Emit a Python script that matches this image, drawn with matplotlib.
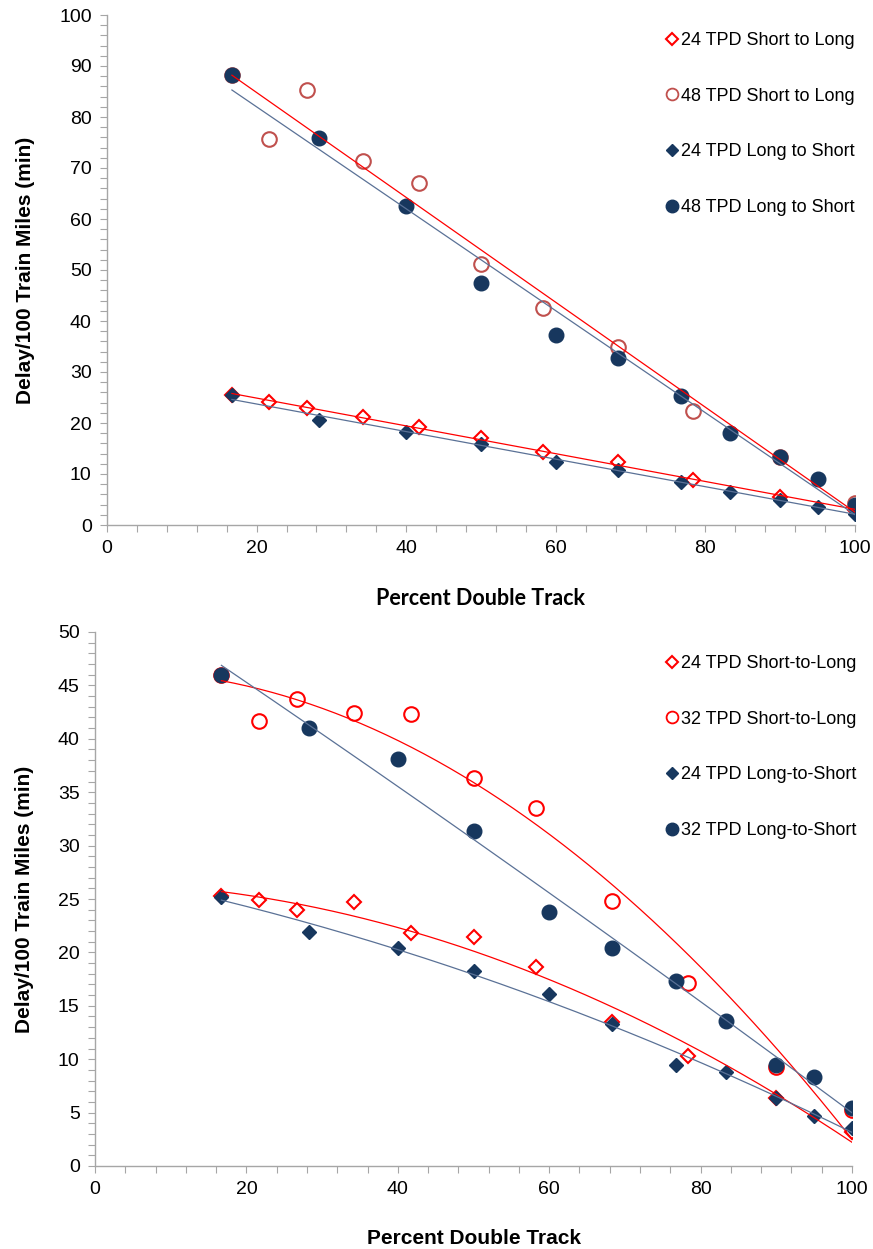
import numpy as np
import matplotlib
matplotlib.use("Agg")
import matplotlib.pyplot as plt
from matplotlib.ticker import MultipleLocator
from matplotlib.lines import Line2D

plt.rcParams['font.family'] = ['Liberation Sans', 'DejaVu Sans']

# percent double track for each scenario
pct_s2l = [16.7, 21.7, 26.7, 34.2, 41.7, 50, 58.3, 68.3, 78.3, 90, 100]
pct_l2s = [16.7, 28.3, 40, 50, 60, 68.3, 76.7, 83.3, 90, 95, 100]

# upper chart: 24 and 48 trains per day
top_s2l_24 = [25.5, 24.1, 23.0, 21.2, 19.3, 17.0, 14.3, 12.4, 8.8, 5.4, 3.0]
top_s2l_48 = [88.3, 75.7, 85.3, 71.3, 67.0, 51.2, 42.5, 35.0, 22.4, 13.4, 4.4]
top_l2s_24 = [25.5, 20.6, 18.2, 15.9, 12.4, 10.8, 8.4, 6.4, 5.0, 3.6, 2.2]
top_l2s_48 = [88.3, 75.9, 62.5, 47.4, 37.3, 32.8, 25.2, 18.0, 13.4, 9.0, 4.0]
top_labels = ["24 TPD Short to Long", "48 TPD Short to Long",
              "24 TPD Long to Short", "48 TPD Long to Short"]

# lower chart: 24 and 32 trains per day
bot_s2l_24 = [25.3, 24.9, 24.0, 24.7, 21.8, 21.4, 18.6, 13.5, 10.3, 6.4, 3.2]
bot_s2l_32 = [46.0, 41.7, 43.7, 42.4, 42.3, 36.3, 33.5, 24.8, 17.1, 9.3, 5.2]
bot_l2s_24 = [25.2, 21.9, 20.4, 18.3, 16.1, 13.3, 9.5, 8.8, 6.4, 4.7, 3.6]
bot_l2s_32 = [46.0, 41.0, 38.1, 31.4, 23.8, 20.4, 17.3, 13.6, 9.5, 8.3, 5.4]
bot_labels = ["24 TPD Short-to-Long", "32 TPD Short-to-Long",
              "24 TPD Long-to-Short", "32 TPD Long-to-Short"]

NAVY = "#17375E"
NAVY_LINE = "#5A7196"
RED = "#FF0000"
DARKRED = "#C0504D"
GRID = "#A6A6A6"


def trend(ax, x, y, deg, color):
    c = np.polyfit(x, y, deg)
    xs = np.linspace(min(x), max(x), 200)
    ax.plot(xs, np.polyval(c, xs), color=color, lw=0.9, zorder=5)


def style_axes(ax, ymax, ymajor, yminor, xfont, xsize):
    ax.set_xlim(0, 100)
    ax.set_ylim(0, ymax)
    ax.xaxis.set_major_locator(MultipleLocator(20))
    ax.xaxis.set_minor_locator(MultipleLocator(4))
    ax.yaxis.set_major_locator(MultipleLocator(ymajor))
    ax.yaxis.set_minor_locator(MultipleLocator(yminor))
    for s in ["top", "right"]:
        ax.spines[s].set_visible(False)
    for s in ["left", "bottom"]:
        ax.spines[s].set_color(GRID)
        ax.spines[s].set_linewidth(1.0)
    ax.tick_params(which="both", direction="out", length=5, width=0.8,
                   color=GRID, labelsize=14, pad=6)
    ax.set_xlabel("Percent Double Track", fontsize=xsize, fontweight="bold",
                  family=xfont, labelpad=22)
    ax.set_ylabel("Delay/100 Train Miles (min)", fontsize=15,
                  fontweight="bold", labelpad=17)


def draw(ax, s2l_lo, s2l_hi, l2s_lo, l2s_hi, hi_color, deg, labels, anchor):
    ms_c, ms_d = 10.5, 7.5
    ax.plot(pct_s2l, s2l_lo, ls="none", marker="D", ms=ms_d, mfc="white",
            mec=RED, mew=1.5, zorder=3)
    ax.plot(pct_s2l, s2l_hi, ls="none", marker="o", ms=ms_c, mfc="white",
            mec=hi_color, mew=1.5, zorder=3)
    ax.plot(pct_l2s, l2s_lo, ls="none", marker="D", ms=ms_d, color=NAVY,
            zorder=4)
    ax.plot(pct_l2s, l2s_hi, ls="none", marker="o", ms=ms_c, color=NAVY,
            zorder=4)
    trend(ax, pct_s2l, s2l_lo, deg, RED)
    trend(ax, pct_s2l, s2l_hi, deg, RED)
    trend(ax, pct_l2s, l2s_lo, deg, NAVY_LINE)
    trend(ax, pct_l2s, l2s_hi, deg, NAVY_LINE)

    handles = [
        Line2D([], [], ls="none", marker="D", ms=6, mfc="white", mec=RED, mew=1.5),
        Line2D([], [], ls="none", marker="o", ms=8.5, mfc="white", mec=hi_color, mew=1.3),
        Line2D([], [], ls="none", marker="D", ms=6, color=NAVY),
        Line2D([], [], ls="none", marker="o", ms=9, color=NAVY),
    ]
    ax.legend(handles, labels, loc="upper left", bbox_to_anchor=anchor,
              bbox_transform=ax.figure.transFigure, frameon=False,
              fontsize=13, handlelength=0.6, handletextpad=0.2,
              labelspacing=2.14, borderpad=0, borderaxespad=0)


fig = plt.figure(figsize=(8.73, 12.49), dpi=100)
ax1 = fig.add_axes([107 / 873, 1 - 525 / 1249, 748 / 873, 510 / 1249])
ax2 = fig.add_axes([95 / 873, 1 - 1166 / 1249, 757 / 873, 534 / 1249])

draw(ax1, top_s2l_24, top_s2l_48, top_l2s_24, top_l2s_48, DARKRED, 1,
     top_labels, (667 / 873, 1 - 32 / 1249))
style_axes(ax1, 100, 10, 2, "Lato", 15.5)

draw(ax2, bot_s2l_24, bot_s2l_32, bot_l2s_24, bot_l2s_32, RED, 2,
     bot_labels, (667 / 873, 1 - 655 / 1249))
style_axes(ax2, 50, 5, 1, "Liberation Sans", 15)

fig.savefig("out.png", dpi=100)
